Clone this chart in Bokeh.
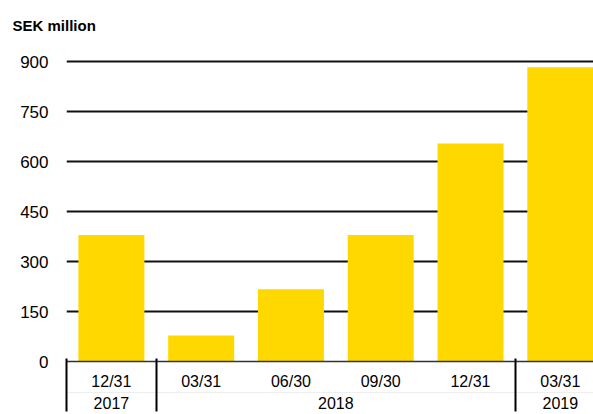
from bokeh.plotting import figure
from bokeh.models import Range1d, FixedTicker, LinearAxis
from bokeh.embed import file_html
from bokeh.resources import INLINE

# ---- data ----
dates = ["12/31", "03/31", "06/30", "09/30", "12/31", "03/31"]
years = ["2017", "2018", "2018", "2018", "2018", "2019"]
values = [380, 78, 217, 380, 655, 884]
y_ticks = [0, 150, 300, 450, 600, 750, 900]
unit_label = "SEK million"

FONT = "Liberation Sans"
BAR_COLOR = "#FFD800"

idx = list(range(len(dates)))

# year groups: centers and boundaries
groups = []
start = 0
for i in range(1, len(years) + 1):
    if i == len(years) or years[i] != years[start]:
        groups.append((years[start], start, i - 1))
        start = i
group_centers = [(a + b) / 2 for _, a, b in groups]
group_bounds = [a - 0.5 for _, a, b in groups]

p = figure(width=593, height=414, output_backend="svg", toolbar_location=None,
           x_axis_type=None,
           x_range=Range1d(-0.5, 5.37), y_range=Range1d(0, 931),
           min_border_left=66, min_border_right=0, min_border_top=51,
           min_border_bottom=53)
p.outline_line_color = None
p.background_fill_color = "white"
p.border_fill_color = "white"

# title
p.title.text = unit_label
p.title.text_font = FONT
p.title.text_font_size = "15px"
p.title.text_font_style = "bold"
p.title.align = "left"
p.title.vertical_align = "top"
p.title.offset = -54
p.title.standoff = 31
p.title.text_color = "black"

# bars
p.vbar(x=idx, top=values, width=0.735, fill_color=BAR_COLOR, line_color=None)

# y axis
ya = p.yaxis[0]
ya.ticker = FixedTicker(ticks=y_ticks)
ya.axis_line_color = None
ya.major_tick_line_color = None
ya.minor_tick_line_color = None
ya.major_label_text_font = FONT
ya.major_label_text_font_size = "17px"
ya.major_label_text_color = "black"
ya.major_label_standoff = 12

# grid
p.xgrid.grid_line_color = None
p.ygrid.ticker = FixedTicker(ticks=[t for t in y_ticks if t > 0])
p.ygrid.grid_line_color = "#111111"
p.ygrid.grid_line_width = 2

# x axis: dates
xa = LinearAxis(ticker=FixedTicker(ticks=idx, minor_ticks=[]),
                major_label_overrides={i: d for i, d in zip(idx, dates)})
xa.axis_line_color = "#333333"
xa.axis_line_width = 1.5
xa.major_tick_line_color = None
xa.minor_tick_line_color = None
xa.major_tick_out = 0
xa.major_tick_in = 0
xa.major_label_text_font = FONT
xa.major_label_text_font_size = "16px"
xa.major_label_text_color = "black"
xa.major_label_standoff = 11
p.add_layout(xa, "below")

# x axis: years
xa2 = LinearAxis(ticker=FixedTicker(ticks=group_centers, minor_ticks=[]),
                 major_label_overrides={c: g[0] for c, g in zip(group_centers, groups)})
xa2.axis_line_color = "#eeeeee"
xa2.axis_line_width = 1
xa2.major_tick_line_color = None
xa2.minor_tick_line_color = None
xa2.major_tick_out = 0
xa2.major_tick_in = 0
xa2.major_label_text_font = FONT
xa2.major_label_text_font_size = "16px"
xa2.major_label_text_color = "black"
xa2.major_label_standoff = 4
p.add_layout(xa2, "below")

# separators between year groups (ticks reaching up to the x axis line)
xa3 = LinearAxis(ticker=FixedTicker(ticks=[], minor_ticks=group_bounds))
xa3.axis_line_color = None
xa3.major_tick_line_color = None
xa3.major_tick_out = 0
xa3.major_tick_in = 0
xa3.minor_tick_out = 0
xa3.minor_tick_in = 53
xa3.minor_tick_line_color = "black"
xa3.minor_tick_line_width = 2
xa3.major_label_standoff = 0
xa3.major_label_text_font_size = "0px"
p.add_layout(xa3, "below")

open("out.html", "w").write(file_html(p, INLINE))
